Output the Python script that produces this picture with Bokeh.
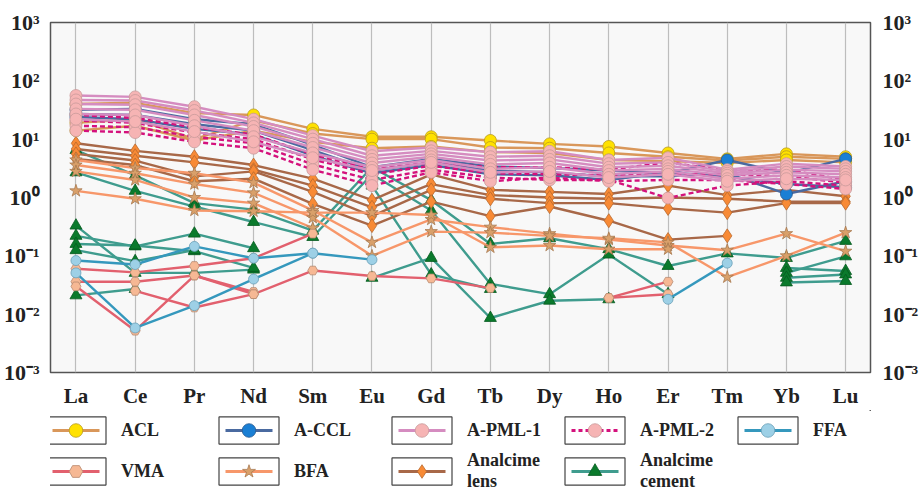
import math
from bokeh.plotting import figure
from bokeh.models import (Range1d, FixedTicker, LogAxis, CustomJSTickFormatter,
                          Legend, LegendItem, ColumnDataSource)
from bokeh.layouts import column
from bokeh.embed import file_html
from bokeh.resources import INLINE

nan = float("nan")

# ---------------- data ----------------
elements = ["La", "Ce", "Pr", "Nd", "Sm", "Eu", "Gd", "Tb", "Dy", "Ho", "Er", "Tm", "Yb", "Lu"]
y_ticks = [0.001, 0.01, 0.1, 1, 10, 100, 1000]

acl_1 = [40, 42, 28, 26, 15, 11, 11, 9.5, 8.3, 7.5, 5.8, 4.6, 5.6, 5.0]
acl_2 = [19, 22, 10, 21, 12.5, 10, 10, 7.2, 7.0, 5.8, 5.0, 4.3, 5.0, 4.6]
acl_3 = [14, 17, 9.5, 14, 9, 7, 7.5, 6.0, 5.8, 4.4, 4.2, 3.9, 4.4, 4.0]

ccl_1 = [32, 33, 22, 18, 8.0, 3.3, 4.6, 3.4, 3.2, 2.9, 2.6, 4.4, 2.6, 4.6]
ccl_2 = [27, 26, 18, 14, 6.5, 2.9, 4.0, 2.9, 2.7, 2.3, 2.3, 2.6, 1.15, 1.9]
ccl_3 = [24, 22, 15, 12, 5.2, 2.6, 3.6, 2.5, 2.4, 2.0, 2.7, 2.3, 1.7, 1.5]

pml1_1 = [56, 53, 36, 22, 11.5, 6.2, 7.2, 6.0, 6.2, 4.4, 4.8, 3.0, 3.8, 3.4]
pml1_2 = [47, 46, 31, 19, 10, 5.2, 6.3, 5.0, 5.2, 3.8, 4.0, 2.8, 3.4, 3.1]
pml1_3 = [40, 39, 26, 16.5, 8.5, 4.5, 5.6, 4.3, 4.5, 3.3, 3.5, 2.6, 3.0, 2.8]
pml1_4 = [33, 32, 21, 14, 7.2, 3.9, 5.0, 3.7, 3.9, 2.9, 3.1, 2.4, 2.7, 2.5]
pml1_5 = [27, 26, 17, 11, 5.8, 3.3, 4.4, 3.1, 3.3, 2.5, 2.8, 2.1, 2.4, 2.2]
pml1_6 = [22, 20, 13.5, 9, 4.8, 2.9, 4.0, 2.7, 2.8, 2.2, 2.5, 1.9, 2.1, 2.0]

pml2_1 = [26, 23, 16, 12, 5.5, 3.0, 4.0, 3.3, 3.3, 3.0, 4.0, 2.9, 3.0, 2.0]
pml2_2 = [21, 19, 13, 10, 4.5, 2.5, 3.5, 2.6, 2.5, 2.4, 2.5, 2.5, 2.3, 1.8]
pml2_3 = [17, 16, 11, 8.5, 3.7, 2.0, 3.0, 2.2, 2.0, 2.0, 0.98, 1.6, 1.9, 1.6]
pml2_4 = [14, 13, 9, 7, 3.0, 1.6, 2.7, 1.9, 2.2, 1.9, 2.0, 2.0, 1.7, 1.4]

ffa_1 = [0.083, 0.071, 0.145, 0.091, 0.111, 0.086, nan, nan, nan, nan, nan, nan, nan, nan]
ffa_2 = [0.051, 0.0058, 0.014, 0.04, 0.111, nan, nan, nan, nan, nan, nan, nan, nan, nan]
ffa_3 = [nan, nan, nan, nan, nan, nan, nan, nan, nan, nan, 0.018, 0.075, nan, nan]

vma_1 = [0.06, 0.052, 0.067, 0.091, 0.24, nan, nan, nan, nan, nan, nan, nan, nan, nan]
vma_2 = [0.036, 0.036, 0.046, 0.024, nan, nan, nan, nan, nan, nan, nan, nan, nan, nan]
vma_3 = [0.03, 0.0052, 0.046, 0.022, nan, nan, nan, nan, nan, nan, nan, nan, nan, nan]
vma_4 = [nan, 0.025, 0.013, 0.022, 0.056, 0.045, 0.041, 0.028, nan, 0.019, 0.022, nan, nan, nan]
vma_5 = [nan, nan, nan, nan, nan, nan, nan, nan, nan, 0.019, 0.036, nan, nan, nan]

bfa_1 = [4.4, 3.2, 2.6, 1.8, 0.6, 0.17, 0.42, 0.31, 0.24, 0.19, 0.15, 0.125, 0.24, 0.12]
bfa_2 = [3.6, 2.6, 1.7, 1.2, 0.45, 0.1, 0.26, 0.25, 0.22, 0.2, 0.17, 0.043, 0.1, 0.25]
bfa_3 = [2.8, 2.0, 1.0, 0.8, 0.3, nan, nan, nan, nan, nan, nan, nan, nan, nan]
bfa_4 = [1.3, 0.95, 0.6, 0.58, 0.55, 0.55, 0.5, 0.14, 0.15, 0.13, 0.13, nan, nan, nan]

lens_1 = [8.5, 6.3, 5.0, 3.6, 2.1, 0.9, 2.5, 1.35, 1.25, 1.15, 1.6, 1.1, 1.35, 1.05]
lens_2 = [6.8, 5.2, 4.0, 3.0, 1.6, 0.68, 1.7, 1.1, 1.0, 0.95, 1.0, 0.95, 0.85, 0.85]
lens_3 = [5.6, 4.3, 2.3, 2.8, 1.25, 0.48, 1.35, 0.95, 0.8, 0.8, 0.65, 0.55, 0.8, 0.8]
lens_4 = [4.6, 3.6, 1.9, 2.1, 0.78, 0.33, 0.85, 0.48, 0.7, 0.4, 0.19, 0.22, nan, nan]

cem_1 = [6.5, 2.4, 0.8, 0.62, 0.27, 3.3, 0.9, 0.16, 0.2, 0.13, 0.067, 0.11, 0.092, 0.18]
cem_2 = [2.7, 1.3, 0.7, 0.38, 0.21, 2.5, 0.6, 0.033, 0.022, 0.105, 0.022, nan, nan, nan]
cem_3 = [0.33, 0.051, 0.051, 0.058, nan, 1.6, 0.048, 0.027, nan, nan, nan, nan, nan, nan]
cem_4 = [0.22, 0.145, 0.24, 0.135, nan, nan, nan, nan, nan, nan, nan, nan, nan, nan]
cem_5 = [0.16, 0.15, 0.12, 0.062, nan, nan, nan, nan, nan, nan, nan, nan, nan, nan]
cem_6 = [0.125, 0.081, 0.125, nan, nan, nan, nan, nan, nan, nan, nan, nan, nan, nan]
cem_7 = [0.021, 0.027, nan, nan, nan, nan, nan, nan, nan, nan, nan, nan, nan, nan]
cem_8 = [nan, nan, nan, nan, nan, 0.042, 0.092, 0.0086, 0.017, 0.018, nan, nan, nan, nan]
cem_9 = [nan, nan, nan, nan, nan, nan, nan, nan, nan, nan, nan, nan, 0.062, 0.055]
cem_10 = [nan, nan, nan, nan, nan, nan, nan, nan, nan, nan, nan, nan, 0.051, 0.098]
cem_11 = [nan, nan, nan, nan, nan, nan, nan, nan, nan, nan, nan, nan, 0.042, 0.048]
cem_12 = [nan, nan, nan, nan, nan, nan, nan, nan, nan, nan, nan, nan, 0.035, 0.037]

groups = [
    ("ACL", [acl_1, acl_2, acl_3]),
    ("A-CCL", [ccl_1, ccl_2, ccl_3]),
    ("A-PML-1", [pml1_1, pml1_2, pml1_3, pml1_4, pml1_5, pml1_6]),
    ("A-PML-2", [pml2_1, pml2_2, pml2_3, pml2_4]),
    ("FFA", [ffa_1, ffa_2, ffa_3]),
    ("VMA", [vma_1, vma_2, vma_3, vma_4, vma_5]),
    ("BFA", [bfa_1, bfa_2, bfa_3, bfa_4]),
    ("Analcime\nlens", [lens_1, lens_2, lens_3, lens_4]),
    ("Analcime\ncement", [cem_1, cem_2, cem_3, cem_4, cem_5, cem_6, cem_7, cem_8,
                          cem_9, cem_10, cem_11, cem_12]),
]

# ---------------- styles ----------------
styles = {
    "ACL": dict(line="#d9975a", dash="solid", marker="circle", fill="#ffe100", edge="#b89a20", size=12),
    "A-CCL": dict(line="#4a6aa0", dash="solid", marker="circle", fill="#1a7fd4", edge="#2a5a90", size=12),
    "A-PML-1": dict(line="#d58cc0", dash="solid", marker="circle", fill="#f6b4b4", edge="#c99a9a", size=12),
    "A-PML-2": dict(line="#d4117c", dash="5 3", marker="circle", fill="#f6b4b4", edge="#c99a9a", size=12),
    "FFA": dict(line="#3598bd", dash="solid", marker="circle", fill="#9dd0e6", edge="#6a9fb8", size=10),
    "VMA": dict(line="#e2606e", dash="solid", marker="hex", fill="#f6b894", edge="#b88a70", size=10),
    "BFA": dict(line="#f7976a", dash="solid", marker="star", fill="#d9a06a", edge="#a87a50", size=13),
    "Analcime\nlens": dict(line="#a86848", dash="solid", marker="diamond", fill="#f88a35", edge="#b86a30", size=14),
    "Analcime\ncement": dict(line="#3f9c8e", dash="solid", marker="triangle", fill="#0a7a2c", edge="#065a20", size=12),
}
# dash patterns used only for the legend swatches (keeps the stroke inside the swatch box)
legend_dash = {name: "0 14 47 200" for name in styles}
legend_dash["A-PML-2"] = "0 14 4 3 4 3 4 3 4 3 4 3 4 3 4 200"

draw_order = ["Analcime\ncement", "Analcime\nlens", "BFA", "VMA", "FFA",
              "ACL", "A-CCL", "A-PML-2", "A-PML-1"]

serif = "Liberation Serif"

# ---------------- main plot ----------------
p = figure(width=921, height=410, x_range=Range1d(-0.43, 13.42),
           y_range=Range1d(1e-3, 1e3), y_axis_type="log",
           output_backend="svg", toolbar_location=None,
           min_border_left=46, min_border_right=42, min_border_top=22, min_border_bottom=27,
           background_fill_color="#f8f8f8", border_fill_color="#ffffff")
p.outline_line_color = "#555555"
p.outline_line_width = 1.5

xs = list(range(len(elements)))
gdict = dict(groups)
for name in draw_order:
    st = styles[name]
    for ser in gdict[name]:
        src = ColumnDataSource(dict(x=xs, y=ser))
        p.line("x", "y", source=src, line_color=st["line"], line_width=2.4,
               line_dash=st["dash"])
    for ser in gdict[name]:
        src = ColumnDataSource(dict(x=xs, y=ser))
        p.scatter("x", "y", source=src, marker=st["marker"], size=st["size"],
                  fill_color=st["fill"], line_color=st["edge"], line_width=0.8)

x_ticker = FixedTicker(ticks=xs)
x_fmt = CustomJSTickFormatter(args=dict(labels=elements),
                              code="return labels[Math.round(tick)];")
xa = p.xaxis[0]
xa.ticker = x_ticker
xa.formatter = x_fmt
xa.axis_line_color = None
xa.major_tick_line_color = None
xa.minor_tick_line_color = None
xa.major_label_text_font = serif
xa.major_label_text_font_style = "bold"
xa.major_label_text_font_size = "21px"
xa.major_label_text_color = "#222222"
xa.major_label_standoff = 5
p.xgrid.ticker = x_ticker
p.xgrid.grid_line_color = "#bdbdbd"
p.xgrid.grid_line_width = 1.2
p.ygrid.grid_line_color = None

y_fmt_code = """
const e = Math.round(Math.log10(tick));
const m = {"-": "\\u207b", "0": "\\u2070", "1": "\\u00b9", "2": "\\u00b2", "3": "\\u00b3"};
let s = "";
for (const c of String(e)) { s += m[c]; }
return "10" + s;
"""

def style_y(ax, standoff):
    ax.ticker = FixedTicker(ticks=y_ticks)
    ax.formatter = CustomJSTickFormatter(code=y_fmt_code)
    ax.axis_line_color = None
    ax.major_tick_line_color = None
    ax.minor_tick_line_color = None
    ax.major_label_text_font = serif
    ax.major_label_text_font_style = "bold"
    ax.major_label_text_font_size = "22px"
    ax.major_label_text_color = "#222222"
    ax.major_label_standoff = standoff

style_y(p.yaxis[0], 5)
ry = LogAxis()
style_y(ry, 6)
p.add_layout(ry, "right")

# ---------------- legend panel ----------------
lp = figure(width=921, height=82, x_range=Range1d(0, 1), y_range=Range1d(0, 1),
            x_axis_type=None, y_axis_type=None, output_backend="svg",
            toolbar_location=None, min_border=0,
            background_fill_color="#ffffff", border_fill_color="#ffffff")
lp.outline_line_color = None
lp.xgrid.visible = False
lp.ygrid.visible = False

items = []
for name, _ in groups:
    st = styles[name]
    # placeholder source, kept outside the visible range: used only for legend swatches
    holder = ColumnDataSource(dict(x=[5, 6], y=[5, 6]))
    box = lp.vbar(x="x", top="y", width=1, bottom=4, source=holder,
                  fill_color="#ffffff", line_color="#444444", line_width=1.2)
    ln = lp.line("x", "y", source=holder, line_color=st["line"], line_width=3,
                 line_dash=legend_dash[name])
    mk = lp.scatter("x", "y", source=holder, marker=st["marker"],
                    fill_color=st["fill"], line_color=st["edge"], line_width=0.8)
    items.append(LegendItem(label=name, renderers=[box, ln, mk]))

legend = Legend(items=items, orientation="horizontal", ncols=5,
                location=(-12, 0), glyph_width=75, glyph_height=34,
                label_standoff=8, label_width=88, label_height=36, spacing=2,
                padding=0, margin=0, border_line_color=None,
                background_fill_alpha=0,
                label_text_font=serif, label_text_font_style="bold",
                label_text_font_size="18px",
                label_text_color="#222222", label_text_line_height=0.92)
lp.add_layout(legend, "center")

layout = column(p, lp)
open("out.html", "w").write(file_html(layout, INLINE))
